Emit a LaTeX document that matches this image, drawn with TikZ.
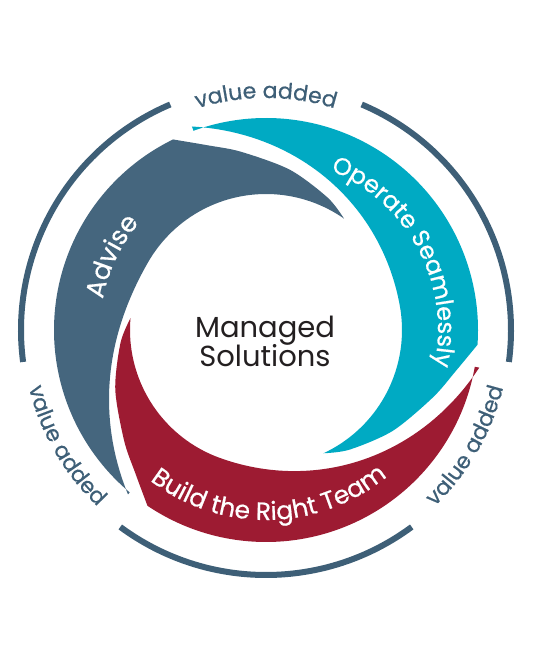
\documentclass[tikz,border=0pt]{standalone}
\usepackage{fontspec}
\newfontfamily\pop{Poppins}
\newfontfamily\popb{Poppins}[FakeBold=0.6]
\usetikzlibrary{decorations.text}
\definecolor{advc}{HTML}{45667E}
\definecolor{ringc}{HTML}{3E5F77}
\definecolor{cyanc}{HTML}{00AAC3}
\definecolor{redc}{HTML}{9D1B32}
\definecolor{textc}{HTML}{231F20}
% #1 = angle where the inner edge starts to widen, #2 = rate of widening
\newcommand\swooshpath[2]{(116:212) arc[start angle=116, end angle=230, radius=212pt]
  -- plot[domain=230:55, samples=90] (\x:{136+#2*(max(\x-#1,0))^2})
  -- plot[smooth] coordinates {(55:136) (65:146) (81.5:162) (98:180) (107.7:194) (116:212)} -- cycle}
\begin{document}
\begin{tikzpicture}[x=1pt,y=1pt,
  ring/.style={draw=ringc, line width=6pt},
  vadd/.style={decorate, decoration={text along path, text align=center, text color=ringc,
     text={|\popb\fontsize{22pt}{22pt}\selectfont|value added}}},
  band/.style 2 args={decorate, decoration={text along path, text align=center, text color=white,
     text={|\popb\fontsize{#1}{#1}\selectfont|#2}}},
  ctext/.style={font=\pop\fontsize{29pt}{29pt}\selectfont, text=textc, inner sep=0pt, anchor=base}]
\useasboundingbox (-266,-330) rectangle (270,330);
% outer ring
\draw[ring] (113:245) arc[start angle=113, end angle=187.5, radius=245pt];
\draw[ring] (233.5:245) arc[start angle=233.5, end angle=306.5, radius=245pt];
\draw[ring] (-7.5:245) arc[start angle=-7.5, end angle=67, radius=245pt];
% ring texts
\path[vadd] (118:232) arc[start angle=118, end angle=62, radius=232pt];
\path[vadd] (182:244) arc[start angle=182, end angle=238, radius=244pt];
\path[vadd] (302:244) arc[start angle=302, end angle=358, radius=244pt];
% swooshes
\fill[advc] \swooshpath{150}{0.0123};
\fill[cyanc, rotate=-120] \swooshpath{130}{0.00806};
\fill[redc, rotate=120] \swooshpath{130}{0.00806};
% band texts
\path[band={26pt}{Advise}] (189.5:166) arc[start angle=189.5, end angle=119.5, radius=166pt];
\path[band={24pt}{Operate Seamlessly}] (83:172) arc[start angle=83, end angle=-27, radius=172pt];
\path[band={25pt}{Build the Right Team}] (215:190) arc[start angle=215, end angle=327, radius=190pt];
% centre
\node[ctext] (m1) at (-1,-8) {Managed};
\node[ctext] (m2) at (-1,-37) {Solutions};
\end{tikzpicture}
\end{document}
